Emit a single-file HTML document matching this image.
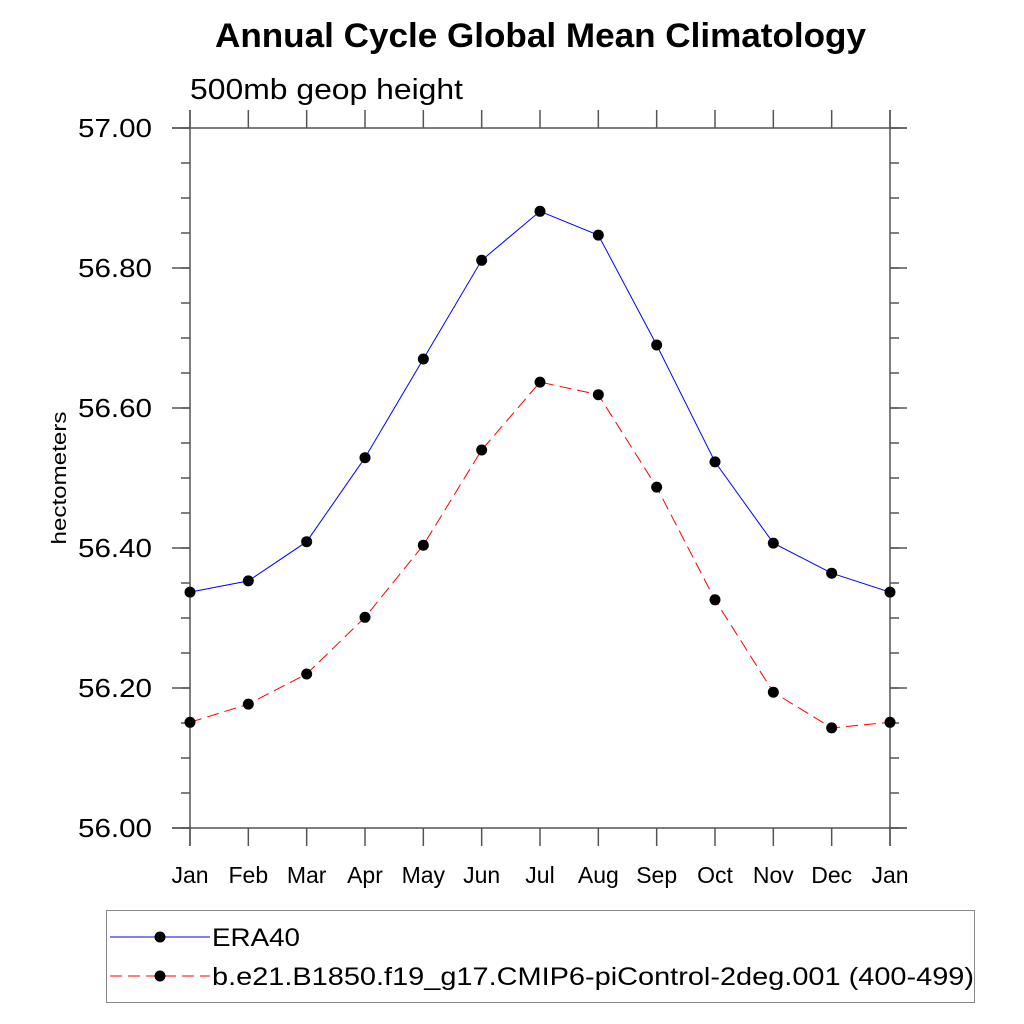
<!DOCTYPE html>
<html><head><meta charset="utf-8"><style>
html,body{margin:0;padding:0;background:#fff;}
svg{display:block;font-family:"Liberation Sans",sans-serif;}
</style></head><body>
<svg id="chart" width="1024" height="1024" viewBox="0 0 1024 1024">
<text x="215" y="47" textLength="651" lengthAdjust="spacingAndGlyphs" font-size="34" font-weight="bold">Annual Cycle Global Mean Climatology</text>
<text x="190" y="99" textLength="273" lengthAdjust="spacingAndGlyphs" font-size="29">500mb geop height</text>
<text transform="translate(66,478) rotate(-90)" text-anchor="middle" textLength="133" lengthAdjust="spacingAndGlyphs" font-size="20">hectometers</text>
<g id="axes"></g>
<g id="series"></g>
<g>
<rect x="106.5" y="910.5" width="868" height="92" fill="none" stroke="#888" stroke-width="1"/>
<g>
<line x1="110" y1="937" x2="210" y2="937" stroke="#0000ff" stroke-width="1"/>
<circle cx="160" cy="937" r="5.5" fill="#000"/>
<text x="212" y="946" font-size="25" textLength="88" lengthAdjust="spacingAndGlyphs">ERA40</text>
</g>
<g>
<line x1="110" y1="976" x2="210" y2="976" stroke="#ff0000" stroke-width="1" stroke-dasharray="12,6"/>
<circle cx="160" cy="976" r="5.5" fill="#000"/>
<text x="212" y="985" font-size="25" textLength="762" lengthAdjust="spacingAndGlyphs">b.e21.B1850.f19_g17.CMIP6-piControl-2deg.001 (400-499)</text>
</g>
</g>
</svg>
<script>
const months = ["Jan","Feb","Mar","Apr","May","Jun","Jul","Aug","Sep","Oct","Nov","Dec","Jan"];
const era40 = [56.337,56.353,56.409,56.529,56.670,56.811,56.881,56.847,56.690,56.523,56.407,56.364,56.337];
const model = [56.151,56.177,56.220,56.301,56.404,56.540,56.637,56.619,56.487,56.326,56.194,56.143,56.151];
const yTicks = [56.0,56.2,56.4,56.6,56.8,57.0];
const yTickLabels = ["56.00","56.20","56.40","56.60","56.80","57.00"];
const yMin = 56.0, yMax = 57.0;
const NS = "http://www.w3.org/2000/svg";
const L = 190, R = 890, T = 128, B = 828;
function xs(i){ return L + i*(R-L)/(months.length-1); }
function ys(v){ return B - (v-yMin)/(yMax-yMin)*(B-T); }
function mk(tag, attrs, parent){
  const e = document.createElementNS(NS, tag);
  for (const k in attrs) e.setAttribute(k, attrs[k]);
  parent.appendChild(e); return e;
}
const ax = document.getElementById("axes");
const stroke = {stroke:"#555","stroke-width":1.5};
let e;
e = mk("line",Object.assign({x1:172,y1:T,x2:907,y2:T},stroke),ax);
 
e = mk("line",Object.assign({x1:172,y1:B,x2:907,y2:B},stroke),ax);
 
e = mk("line",Object.assign({x1:L,y1:110,x2:L,y2:846},stroke),ax);
 
e = mk("line",Object.assign({x1:R,y1:110,x2:R,y2:846},stroke),ax);
 
months.forEach((m,i)=>{
  const x = xs(i);
  mk("line",Object.assign({x1:x,y1:110,x2:x,y2:T},stroke),ax);
  mk("line",Object.assign({x1:x,y1:B,x2:x,y2:846},stroke),ax);
  const t = mk("text",{x:x,y:883,"text-anchor":"middle","font-size":"23"},ax);
  t.textContent = m;
  
  
});
for (let v = yMin; v <= yMax+1e-9; v += 0.05){
  const y = ys(v);
  mk("line",Object.assign({x1:181,y1:y,x2:L,y2:y},stroke),ax);
  mk("line",Object.assign({x1:R,y1:y,x2:899,y2:y},stroke),ax);
}
yTicks.forEach((v,i)=>{
  const y = ys(v);
  mk("line",Object.assign({x1:172,y1:y,x2:L,y2:y},stroke),ax);
  mk("line",Object.assign({x1:R,y1:y,x2:907,y2:y},stroke),ax);
  const t = mk("text",{x:78,y:y+9,"font-size":"26",textLength:"74",lengthAdjust:"spacingAndGlyphs"},ax);
  t.textContent = yTickLabels[i];
  
  
});
const sg = document.getElementById("series");
function drawSeries(vals, color, dash, name){
  const g = mk("g",{},sg);
  
  
  const pts = vals.map((v,i)=>xs(i)+","+ys(v)).join(" ");
  const attrs = {points:pts,fill:"none",stroke:color,"stroke-width":1};
  if (dash) attrs["stroke-dasharray"] = dash;
  const pl = mk("polyline",attrs,g);
  
  
  vals.forEach((v,i)=>{
    const c = mk("circle",{cx:xs(i),cy:ys(v),r:5.5,fill:"#000"},g);
    
    
  });
}
drawSeries(era40,"#0000ff",null,"era40-series");
drawSeries(model,"#ff0000","12,6","model-series");
</script>
</body></html>
